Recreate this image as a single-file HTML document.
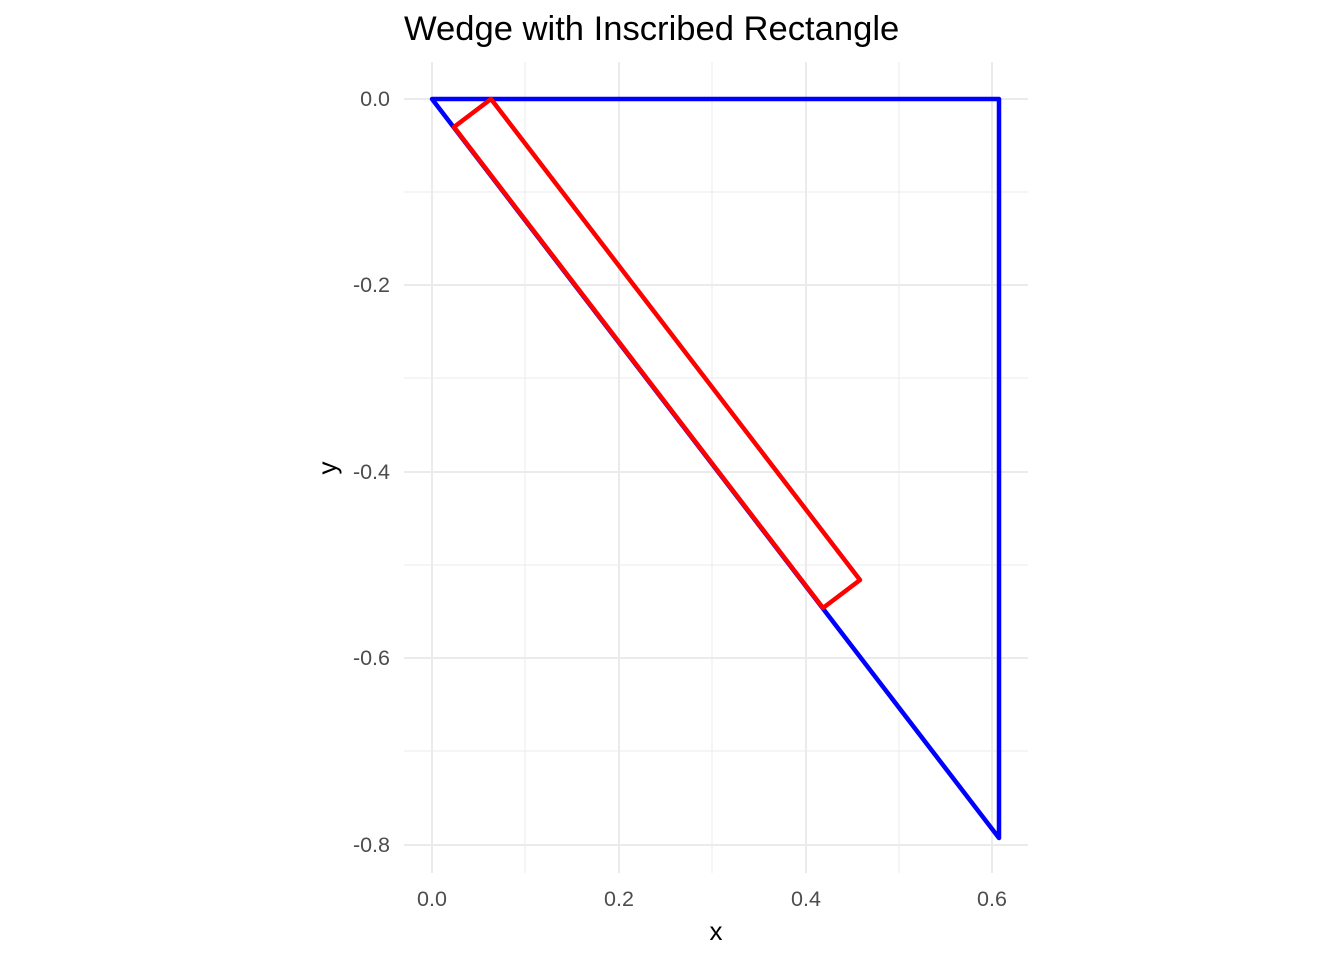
<!DOCTYPE html>
<html><head><style>body{margin:0;background:#fff}</style></head><body>
<svg width="1344" height="960" xmlns="http://www.w3.org/2000/svg" font-family="Liberation Sans, sans-serif">
<rect width="1344" height="960" fill="#fff"/>
<g stroke="#ebebeb" stroke-width="1">
<line x1="404" x2="1028" y1="192" y2="192"/><line x1="404" x2="1028" y1="378" y2="378"/>
<line x1="404" x2="1028" y1="565" y2="565"/><line x1="404" x2="1028" y1="751" y2="751"/>
<line x1="525" x2="525" y1="62" y2="873"/><line x1="712" x2="712" y1="62" y2="873"/><line x1="899" x2="899" y1="62" y2="873"/>
</g>
<g stroke="#ebebeb" stroke-width="2">
<line x1="404" x2="1028" y1="99" y2="99"/><line x1="404" x2="1028" y1="285" y2="285"/>
<line x1="404" x2="1028" y1="472" y2="472"/><line x1="404" x2="1028" y1="658" y2="658"/><line x1="404" x2="1028" y1="845" y2="845"/>
<line x1="432" x2="432" y1="62" y2="873"/><line x1="619" x2="619" y1="62" y2="873"/><line x1="806" x2="806" y1="62" y2="873"/><line x1="992" x2="992" y1="62" y2="873"/>
</g>
<polygon points="432,99 999,99 999,838" fill="none" stroke="#0000ff" stroke-width="4.5" stroke-linejoin="round"/>
<polygon points="491,99 860,580 823,608 454,127" fill="none" stroke="#ff0000" stroke-width="4.5" stroke-linejoin="round"/>
<g fill="#4d4d4d" font-size="21.5" text-anchor="end">
<text x="390" y="106">0.0</text><text x="390" y="292">-0.2</text><text x="390" y="479">-0.4</text><text x="390" y="665">-0.6</text><text x="390" y="852">-0.8</text>
</g>
<g fill="#4d4d4d" font-size="21.5" text-anchor="middle">
<text x="432" y="906">0.0</text><text x="619" y="906">0.2</text><text x="806" y="906">0.4</text><text x="992" y="906">0.6</text>
</g>
<text x="716" y="940" font-size="26" text-anchor="middle">x</text>
<text x="336" y="468" font-size="26" text-anchor="middle" transform="rotate(-90 336 468)">y</text>
<text x="404" y="40" font-size="34.6">Wedge with Inscribed Rectangle</text>
</svg>
</body></html>
